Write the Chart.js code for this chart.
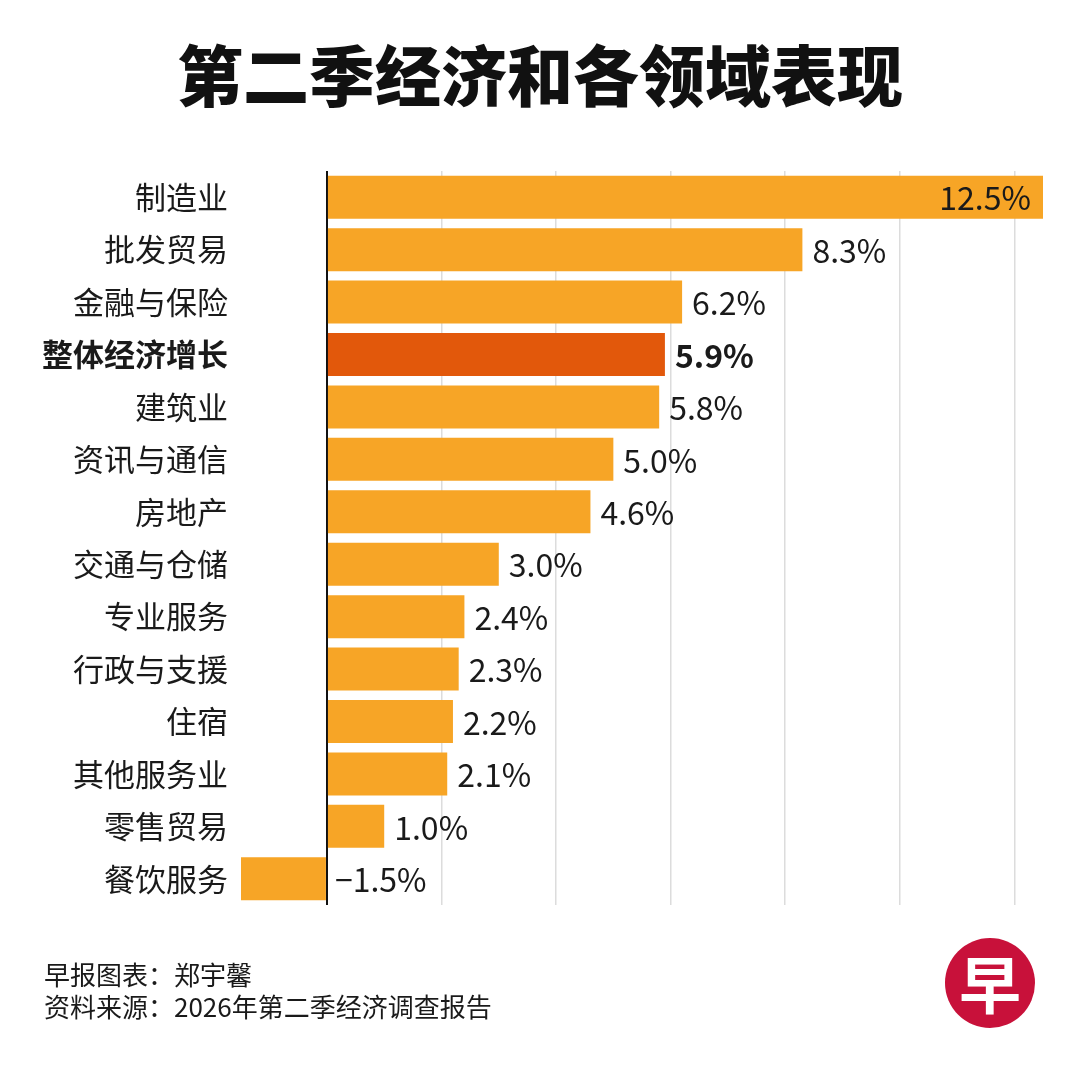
<!DOCTYPE html>
<html>
<head>
<meta charset="utf-8">
<script src="https://cdn.jsdelivr.net/npm/chart.js@4.4.0/dist/chart.umd.min.js"></script>
<style>
  html, body { margin: 0; padding: 0; background: #fff; }
  #wrap { width: 1080px; height: 1080px; position: relative; }
</style>
</head>
<body>
<div id="wrap"><canvas id="myChart" width="1080" height="1080"></canvas></div>
<script>
var categories = ["制造业", "批发贸易", "金融与保险", "整体经济增长", "建筑业", "资讯与通信", "房地产",
  "交通与仓储", "专业服务", "行政与支援", "住宿", "其他服务业", "零售贸易", "餐饮服务"];
var growth = [12.5, 8.3, 6.2, 5.9, 5.8, 5.0, 4.6, 3.0, 2.4, 2.3, 2.2, 2.1, 1.0, -1.5];
var highlight = "整体经济增长";
var xTicks = [0, 2, 4, 6, 8, 10, 12];

var FONT = "'Noto Sans CJK SC', 'Noto Sans', sans-serif";
var ORANGE = "#f7a526";
var DARK = "#e2580b";

var colors = categories.map(function (c) { return c === highlight ? DARK : ORANGE; });

// title, footer, logo and bar value labels
var extras = {
  id: "extras",
  afterDatasetsDraw: function (chart) {
    var ctx = chart.ctx;
    var meta = chart.getDatasetMeta(0);
    var x = chart.scales.x;
    ctx.save();
    ctx.textBaseline = "middle";
    meta.data.forEach(function (bar, i) {
      var v = growth[i];
      var bold = categories[i] === highlight;
      ctx.font = (bold ? "bold " : "") + "32px " + FONT;
      ctx.fillStyle = "#1a1a1a";
      var txt = (v < 0 ? "\u2212" + Math.abs(v).toFixed(1) : v.toFixed(1)) + "%";
      if (v >= 10) {
        ctx.textAlign = "right";
        ctx.fillText(txt, bar.x - 12, bar.y + 1);
      } else if (v < 0) {
        ctx.textAlign = "left";
        ctx.fillText(txt, x.getPixelForValue(0) + 8, bar.y + 1);
      } else {
        ctx.textAlign = "left";
        ctx.fillText(txt, bar.x + 10, bar.y + 1);
      }
    });

    // title
    ctx.textAlign = "center";
    ctx.font = "900 66px " + FONT;
    ctx.fillStyle = "#111";
    ctx.fillText("第二季经济和各领域表现", 540, 76);

    // footer
    ctx.textAlign = "left";
    ctx.font = "26px " + FONT;
    ctx.fillStyle = "#1a1a1a";
    ctx.fillText("早报图表：郑宇馨", 44, 975);
    ctx.fillText("资料来源：2026年第二季经济调查报告", 44, 1007);

    // logo
    ctx.beginPath();
    ctx.arc(990, 983, 45, 0, Math.PI * 2);
    ctx.fillStyle = "#c8113a";
    ctx.fill();
    ctx.textAlign = "center";
    ctx.font = "bold 62px " + FONT;
    ctx.fillStyle = "#fff";
    ctx.fillText("早", 990, 985);
    ctx.restore();
  }
};

var ctx = document.getElementById("myChart").getContext("2d");
var chart = new Chart(ctx, {
  type: "bar",
  data: {
    labels: categories,
    datasets: [{
      data: growth,
      backgroundColor: colors,
      borderWidth: 0,
      barPercentage: 0.82,
      categoryPercentage: 1.0
    }]
  },
  options: {
    indexAxis: "y",
    responsive: false,
    animation: false,
    devicePixelRatio: 1,
    layout: { padding: { left: 0, right: 37, top: 171, bottom: 175 } },
    plugins: { legend: { display: false }, tooltip: { enabled: false } },
    scales: {
      x: {
        min: -1.5,
        max: 12.5,
        afterBuildTicks: function (scale) {
          scale.ticks = xTicks.map(function (v) { return { value: v }; });
        },
        afterFit: function (scale) { scale.height = 0; },
        ticks: { display: false },
        border: { display: false },
        grid: {
          drawTicks: false,
          color: function (c) { return c.tick && c.tick.value === 0 ? "#111" : "#dcdcdc"; },
          lineWidth: function (c) { return c.tick && c.tick.value === 0 ? 2 : 1.5; }
        }
      },
      y: {
        afterFit: function (scale) { scale.width = 241; },
        border: { display: false },
        grid: { display: false, drawTicks: false },
        ticks: {
          padding: 13,
          color: "#1a1a1a",
          font: function (c) {
            var bold = categories[c.index] === highlight;
            return { family: FONT, size: 31, weight: bold ? "bold" : "normal" };
          }
        }
      }
    }
  },
  plugins: [extras]
});
</script>
</body>
</html>
